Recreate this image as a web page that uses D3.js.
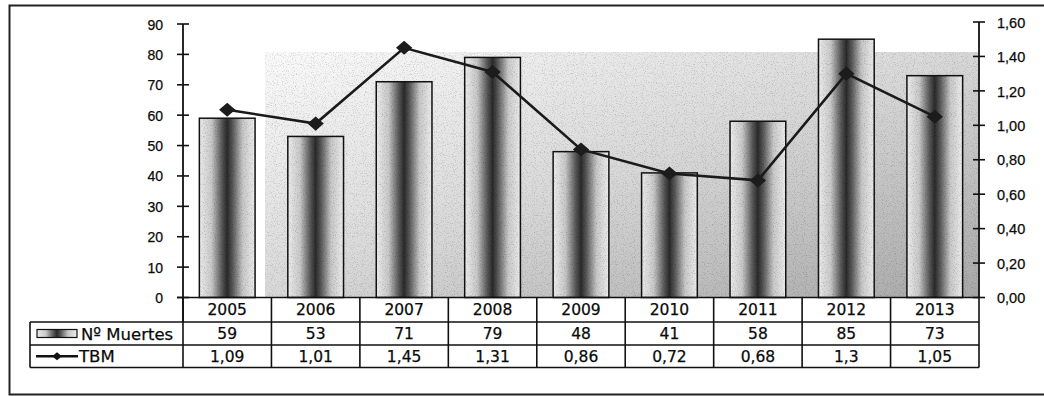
<!DOCTYPE html>
<html>
<head>
<meta charset="utf-8">
<script src="https://cdn.jsdelivr.net/npm/d3@7"></script>
<style>
  body { margin: 0; background: #fff; }
  svg { display: block; font-family: 'DejaVu Sans', 'Liberation Sans', Arial, sans-serif; }
  text { fill: #0a0a0a; stroke: #0a0a0a; stroke-width: 0.25px; }
</style>
</head>
<body>
<svg id="chart" width="1044" height="396"></svg>
<script>
// data
const years = ['2005', '2006', '2007', '2008', '2009', '2010', '2011', '2012', '2013'];
const muertes = [59, 53, 71, 79, 48, 41, 58, 85, 73];
const tbm = [1.09, 1.01, 1.45, 1.31, 0.86, 0.72, 0.68, 1.3, 1.05];
const tbmLabels = ['1,09', '1,01', '1,45', '1,31', '0,86', '0,72', '0,68', '1,3', '1,05'];
const leftTicks = [0, 10, 20, 30, 40, 50, 60, 70, 80, 90];
const rightTicks = [0, 0.2, 0.4, 0.6, 0.8, 1.0, 1.2, 1.4, 1.6];

const svg = d3.select('#chart');
const plotLeft = 183, plotRight = 979, plotBottom = 297.5, plotTop = 23;
const rowY = [297.5, 322, 345, 367.5];

const esFormat = d3.formatLocale({ decimal: ',', thousands: '.', grouping: [3], currency: ['', ''] }).format('.2f');

const x = d3.scaleBand().domain(years).range([plotLeft, plotRight]).padding(0);
const yL = d3.scaleLinear().domain([0, 90]).range([plotBottom, plotTop + 1]);
const yR = d3.scaleLinear().domain([0, 1.6]).range([plotBottom, plotTop - 1]);

// defs: gradients + grain
const defs = svg.append('defs');
const barGrad = defs.append('linearGradient').attr('id', 'barGrad').attr('x1', 0).attr('x2', 1).attr('y1', 0).attr('y2', 0);
[[0, '#ececec'], [0.22, '#c8c8c8'], [0.4, '#5a5a5a'], [0.5, '#2a2a2a'], [0.6, '#5a5a5a'], [0.78, '#c8c8c8'], [1, '#ececec']]
  .forEach(s => barGrad.append('stop').attr('offset', s[0]).attr('stop-color', s[1]));

const bgGrad = defs.append('linearGradient').attr('id', 'bgGrad').attr('x1', 0).attr('x2', 1).attr('y1', 0).attr('y2', 1);
[[0, '#fbfbfb'], [0.5, '#d8d8d8'], [1, '#a8a8a8']]
  .forEach(s => bgGrad.append('stop').attr('offset', s[0]).attr('stop-color', s[1]));

// scanned-print grain
const grain = defs.append('filter').attr('id', 'grain').attr('x', 0).attr('y', 0).attr('width', 1).attr('height', 1);
grain.append('feTurbulence').attr('type', 'fractalNoise').attr('baseFrequency', 0.9).attr('numOctaves', 2).attr('seed', 3).attr('result', 'noise');
grain.append('feColorMatrix').attr('in', 'noise').attr('type', 'matrix')
  .attr('values', '0 0 0 0 0  0 0 0 0 0  0 0 0 0 0  0 0 0 -1.0 0.5').attr('result', 'dots');
grain.append('feComposite').attr('in', 'dots').attr('in2', 'SourceGraphic').attr('operator', 'in').attr('result', 'd2');
grain.append('feBlend').attr('in', 'SourceGraphic').attr('in2', 'd2').attr('mode', 'multiply');

// outer frame
svg.append('path')
  .attr('d', 'M1044,5.5 H9.5 V394.5 H1044')
  .attr('fill', 'none').attr('stroke', '#222').attr('stroke-width', 2);

// plot wall background
svg.append('rect')
  .attr('x', 265).attr('y', 52).attr('width', plotRight - 265).attr('height', plotBottom - 52)
  .attr('fill', 'url(#bgGrad)').attr('filter', 'url(#grain)');

// bars
const barW = x.bandwidth() * 0.63;
svg.append('g').selectAll('rect')
  .data(muertes)
  .join('rect')
  .attr('x', (d, i) => x(years[i]) + (x.bandwidth() - barW) / 2)
  .attr('y', d => yL(d))
  .attr('width', barW)
  .attr('height', d => plotBottom - yL(d))
  .attr('fill', 'url(#barGrad)')
  .attr('filter', 'url(#grain)');
svg.append('g').selectAll('rect')
  .data(muertes)
  .join('rect')
  .attr('x', (d, i) => x(years[i]) + (x.bandwidth() - barW) / 2)
  .attr('y', d => yL(d))
  .attr('width', barW)
  .attr('height', d => plotBottom - yL(d))
  .attr('fill', 'none').attr('stroke', '#111').attr('stroke-width', 1.5);

// TBM line
const line = d3.line()
  .x((d, i) => x(years[i]) + x.bandwidth() / 2)
  .y(d => yR(d));
svg.append('path')
  .datum(tbm)
  .attr('d', line)
  .attr('fill', 'none').attr('stroke', '#1a1a1a').attr('stroke-width', 2.6);

const diamond = d3.symbol().type(d3.symbolDiamond2).size(140);
svg.append('g').selectAll('path')
  .data(tbm)
  .join('path')
  .attr('transform', (d, i) => `translate(${x(years[i]) + x.bandwidth() / 2},${yR(d)}) scale(1.1,0.95)`)
  .attr('d', diamond)
  .attr('fill', '#1c1c1c');

// left axis
const axL = svg.append('g').attr('transform', `translate(${plotLeft},0)`)
  .call(d3.axisLeft(yL).tickValues(leftTicks).tickSize(0).tickPadding(20).tickFormat(d3.format('d')));
axL.select('.domain').remove();
axL.selectAll('text').attr('font-size', 14).attr('font-family', null).attr('fill', null).attr('dy', '0.36em');
svg.append('line').attr('x1', plotLeft).attr('x2', plotLeft).attr('y1', yL(90)).attr('y2', rowY[1]).attr('stroke', '#111').attr('stroke-width', 1.8);
svg.append('g').selectAll('line')
  .data(leftTicks)
  .join('line')
  .attr('x1', plotLeft - 6).attr('x2', plotLeft + 6)
  .attr('y1', d => yL(d)).attr('y2', d => yL(d))
  .attr('stroke', '#111').attr('stroke-width', 1.6);

// right axis
const axR = svg.append('g').attr('transform', `translate(${plotRight},0)`)
  .call(d3.axisRight(yR).tickValues(rightTicks).tickSize(0).tickPadding(18).tickFormat(esFormat));
axR.select('.domain').remove();
axR.selectAll('text').attr('font-size', 14.5).attr('font-family', null).attr('fill', null).attr('dy', '0.36em');
svg.append('line').attr('x1', plotRight).attr('x2', plotRight).attr('y1', yR(1.6)).attr('y2', plotBottom).attr('stroke', '#111').attr('stroke-width', 1.8);
svg.append('g').selectAll('line')
  .data(rightTicks)
  .join('line')
  .attr('x1', plotRight - 6).attr('x2', plotRight + 6)
  .attr('y1', d => yR(d)).attr('y2', d => yR(d))
  .attr('stroke', '#111').attr('stroke-width', 1.6);

// data table
const table = svg.append('g').attr('font-size', 15.5);
function hline(x1, x2, y) {
  table.append('line').attr('x1', x1).attr('x2', x2).attr('y1', y).attr('y2', y)
    .attr('stroke', '#111').attr('stroke-width', 1.6);
}
function vline(xv, y1, y2) {
  table.append('line').attr('x1', xv).attr('x2', xv).attr('y1', y1).attr('y2', y2)
    .attr('stroke', '#111').attr('stroke-width', 1.6);
}
hline(plotLeft - 6, plotRight, rowY[0]);
hline(30, plotRight, rowY[1]);
hline(30, plotRight, rowY[2]);
hline(30, plotRight, rowY[3]);
vline(30, rowY[1], rowY[3]);
years.forEach(yr => vline(x(yr), rowY[0], rowY[3]));
vline(plotRight, rowY[0], rowY[3]);

const rows = [years, muertes.map(String), tbmLabels];
rows.forEach((vals, r) => {
  table.append('g').selectAll('text')
    .data(vals)
    .join('text')
    .attr('x', (d, i) => x(years[i]) + x.bandwidth() / 2)
    .attr('y', (rowY[r] + rowY[r + 1]) / 2)
    .attr('dy', '0.37em')
    .attr('text-anchor', 'middle')
    .text(d => d);
});

// legend keys in the table
const midM = (rowY[1] + rowY[2]) / 2;
const midT = (rowY[2] + rowY[3]) / 2;
table.append('rect').attr('x', 37).attr('y', midM - 4).attr('width', 40).attr('height', 8)
  .attr('fill', 'url(#barGrad)').attr('stroke', '#111').attr('stroke-width', 1.2);
table.append('text').attr('x', 81).attr('y', midM).attr('dy', '0.37em').attr('font-size', 16.5).text('Nº Muertes');
table.append('line').attr('x1', 36).attr('x2', 78).attr('y1', midT).attr('y2', midT)
  .attr('stroke', '#111').attr('stroke-width', 2.4);
table.append('path').attr('transform', `translate(57,${midT}) scale(1,0.8)`)
  .attr('d', d3.symbol().type(d3.symbolDiamond2).size(60)).attr('fill', '#111');
table.append('text').attr('x', 79).attr('y', midT).attr('dy', '0.37em').attr('font-size', 16.5).text('TBM');
</script>
</body>
</html>
